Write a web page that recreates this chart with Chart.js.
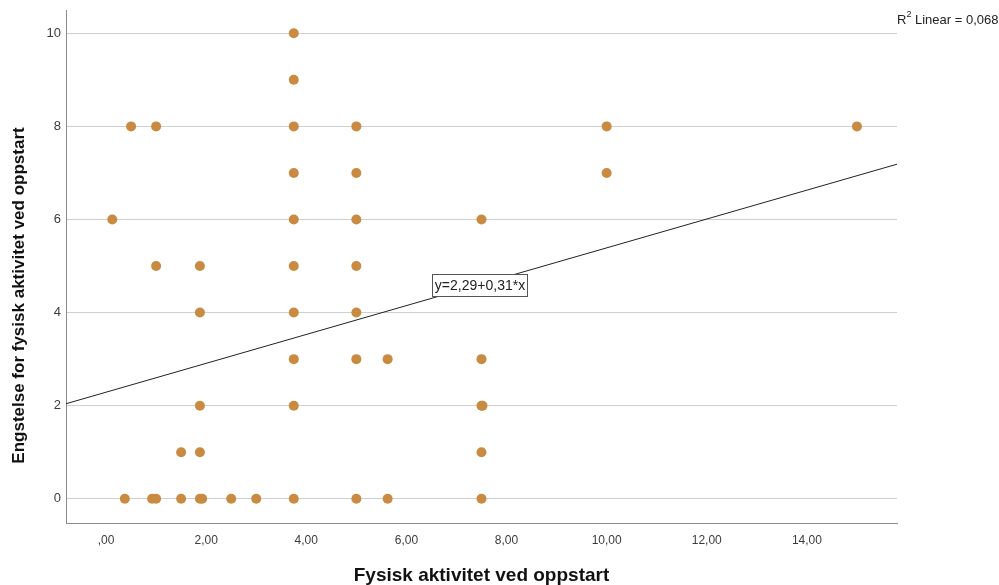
<!DOCTYPE html>
<html>
<head>
<meta charset="utf-8">
<script src="https://cdn.jsdelivr.net/npm/chart.js@4.4.1/dist/chart.umd.min.js"></script>
<style>
  html, body { margin: 0; padding: 0; background: #fff; }
  #wrap { width: 999px; height: 585px; position: relative; }
</style>
</head>
<body>
<div id="wrap"><canvas id="scatter"></canvas></div>
<script>
// Data
const xValues = [
    3.75,
    3.75,
    0.5, 1.0, 3.75, 5.0, 10, 15,
    3.75, 5.0, 10,
    0.125, 3.75, 5.0, 7.5,
    1.0, 1.875, 3.75, 5.0,
    1.875, 3.75, 5.0,
    3.75, 5.0, 5.625, 7.5,
    1.875, 3.75, 7.5, 7.52,
    1.5, 1.875, 7.5,
    0.375, 0.92, 1.0, 1.5, 1.875, 1.92, 2.5, 3.0, 3.75, 5.0, 5.625, 7.5
];
const yValues = [
    10,
    9,
    8, 8, 8, 8, 8, 8,
    7, 7, 7,
    6, 6, 6, 6,
    5, 5, 5, 5,
    4, 4, 4,
    3, 3, 3, 3,
    2, 2, 2, 2,
    1, 1, 1,
    0, 0, 0, 0, 0, 0, 0, 0, 0, 0, 0, 0
];
const xTicks = [0, 2, 4, 6, 8, 10, 12, 14];
const yTicks = [0, 2, 4, 6, 8, 10];
const fitIntercept = 2.29;
const fitSlope = 0.31;
const rSquared = "0,068";

const xMin = -0.8, xMax = 15.8;
const yMin = -0.52, yMax = 10.5;

const fontFamily = "'Liberation Sans', Arial, sans-serif";
const fmtComma = (v) => v === 0 ? ",00" : v.toFixed(2).replace(".", ",");
const fitLabel = "y=" + fmtComma(fitIntercept) + "+" + fmtComma(fitSlope) + "*x";

const points = xValues.map((x, i) => ({ x: x, y: yValues[i] }));
const fitLine = [xMin, xMax].map(x => ({ x: x, y: fitIntercept + fitSlope * x }));

// Extra text: equation box, R² note, rotated y title
const annotations = {
    id: "annotations",
    afterDatasetsDraw(chart) {
        const { ctx, chartArea, scales } = chart;
        ctx.save();

        // equation box sitting on the fit line
        const lx = 7.46;
        const px = scales.x.getPixelForValue(lx);
        const py = scales.y.getPixelForValue(fitIntercept + fitSlope * lx);
        ctx.font = "14px " + fontFamily;
        const w = Math.round(ctx.measureText(fitLabel).width + 5);
        const h = 22;
        const bx = Math.round(px - w / 2), by = Math.round(py - h / 2);
        ctx.fillStyle = "#fff";
        ctx.fillRect(bx, by, w, h);
        ctx.strokeStyle = "#555";
        ctx.lineWidth = 1;
        ctx.strokeRect(bx + 0.5, by + 0.5, w, h);
        ctx.fillStyle = "#222";
        ctx.textAlign = "center";
        ctx.textBaseline = "middle";
        ctx.fillText(fitLabel, bx + w / 2 + 0.5, by + h / 2 + 1);

        // R² Linear note in the top right corner
        let rx = chartArea.right;
        const ry = chartArea.top + 10;
        ctx.textAlign = "left";
        ctx.fillStyle = "#222";
        ctx.font = "13px " + fontFamily;
        ctx.fillText("R", rx, ry);
        rx += ctx.measureText("R").width;
        ctx.font = "9px " + fontFamily;
        ctx.fillText("2", rx, ry - 5);
        rx += ctx.measureText("2").width;
        ctx.font = "13px " + fontFamily;
        ctx.fillText(" Linear = " + rSquared, rx, ry);

        // y axis title
        ctx.translate(19, (chartArea.top + chartArea.bottom) / 2 + 29);
        ctx.rotate(-Math.PI / 2);
        ctx.font = "bold 17px " + fontFamily;
        ctx.fillStyle = "#111";
        ctx.textAlign = "center";
        ctx.fillText("Engstelse for fysisk aktivitet ved oppstart", 0, 0);
        ctx.restore();
    }
};

new Chart(document.getElementById("scatter"), {
    type: "scatter",
    data: {
        datasets: [
            {
                type: "line",
                data: fitLine,
                borderColor: "#222",
                borderWidth: 1,
                pointRadius: 0,
                fill: false,
                order: 0
            },
            {
                data: points,
                backgroundColor: "#c98a42",
                borderColor: "#c98a42",
                borderWidth: 0,
                pointRadius: 5,
                pointHoverRadius: 5,
                order: 1
            }
        ]
    },
    options: {
        responsive: true,
        maintainAspectRatio: false,
        animation: false,
        events: [],
        layout: { padding: { top: 10, right: 102, bottom: 0, left: 0 } },
        plugins: {
            legend: { display: false },
            tooltip: { enabled: false }
        },
        scales: {
            x: {
                type: "linear",
                min: xMin,
                max: xMax,
                afterBuildTicks: (s) => { s.ticks = xTicks.map(v => ({ value: v })); },
                afterFit: (s) => { s.height = 62; s.paddingLeft = 0; s.paddingRight = 0; },
                grid: { display: false, drawTicks: false },
                border: { display: true, color: "#8c8c8c", width: 1 },
                ticks: {
                    padding: 10,
                    color: "#3c3c3c",
                    font: { family: fontFamily, size: 12 },
                    callback: (v) => fmtComma(v)
                },
                title: {
                    display: true,
                    text: "Fysisk aktivitet ved oppstart",
                    color: "#111",
                    padding: { top: 0, bottom: -2 },
                    font: { family: fontFamily, size: 19, weight: "bold" }
                }
            },
            y: {
                type: "linear",
                min: yMin,
                max: yMax,
                afterBuildTicks: (s) => { s.ticks = yTicks.map(v => ({ value: v })); },
                afterFit: (s) => { s.width = 66; s.paddingTop = 0; s.paddingBottom = 0; },
                grid: { color: "#cfcfcf", lineWidth: 1, drawTicks: false },
                border: { display: true, color: "#8c8c8c", width: 1 },
                ticks: {
                    padding: 5,
                    color: "#3c3c3c",
                    font: { family: fontFamily, size: 13 }
                }
            }
        }
    },
    plugins: [annotations]
});
</script>
</body>
</html>
